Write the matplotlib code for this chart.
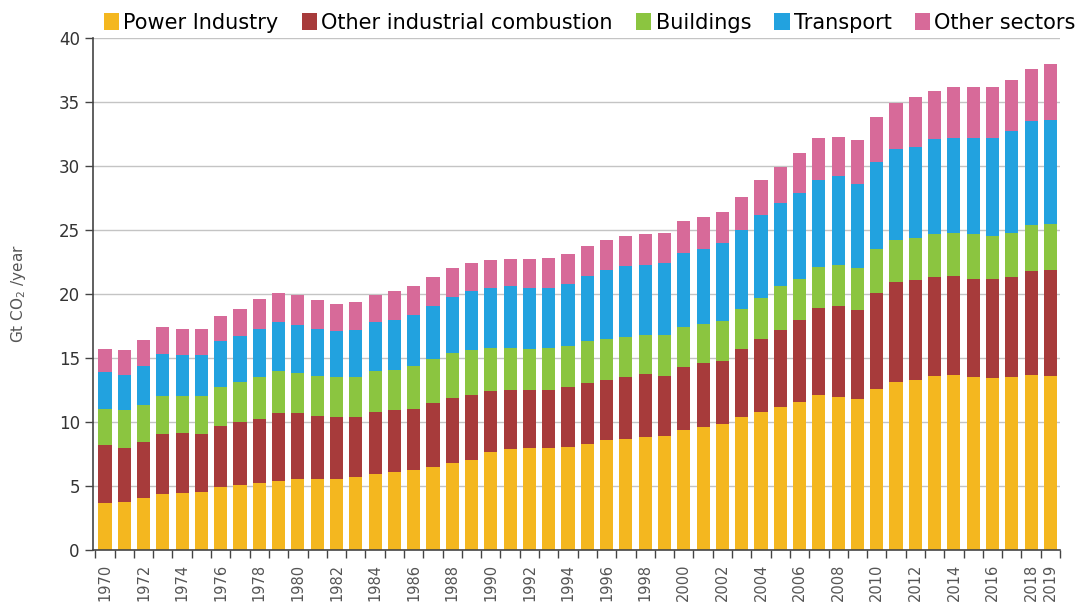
import matplotlib
matplotlib.use("Agg")
import matplotlib.pyplot as plt
import numpy as np

plt.rcParams['font.family'] = ['Liberation Sans Narrow', 'DejaVu Sans']

years = list(range(1970, 2020))

# Gt CO2 per year
power = [3.65, 3.75, 4.06, 4.4, 4.45, 4.5, 4.9, 5.08, 5.26, 5.4,
         5.55, 5.55, 5.55, 5.7, 5.94, 6.07, 6.22, 6.5, 6.77, 7.03,
         7.68, 7.86, 7.94, 8.0, 8.07, 8.25, 8.6, 8.7, 8.85, 8.93,
         9.38, 9.58, 9.87, 10.38, 10.8, 11.2, 11.6, 12.1, 11.98, 11.8,
         12.6, 13.15, 13.3, 13.6, 13.67, 13.5, 13.4, 13.5, 13.67, 13.6]
industry = [4.55, 4.25, 4.34, 4.66, 4.69, 4.56, 4.76, 4.89, 4.94, 5.3,
            5.15, 4.95, 4.85, 4.7, 4.86, 4.83, 4.8, 4.96, 5.08, 5.07,
            4.77, 4.64, 4.56, 4.5, 4.63, 4.82, 4.7, 4.8, 4.9, 4.67,
            4.89, 5.02, 4.88, 5.32, 5.66, 6.0, 6.4, 6.8, 7.08, 6.95,
            7.5, 7.81, 7.8, 7.75, 7.73, 7.7, 7.75, 7.8, 8.13, 8.3]
buildings = [2.85, 2.96, 2.95, 3.0, 2.92, 2.94, 3.04, 3.18, 3.3, 3.26,
             3.1, 3.1, 3.1, 3.1, 3.16, 3.2, 3.35, 3.44, 3.51, 3.5,
             3.35, 3.3, 3.2, 3.25, 3.2, 3.28, 3.16, 3.17, 3.05, 3.2,
             3.13, 3.06, 3.12, 3.1, 3.24, 3.4, 3.2, 3.2, 3.24, 3.25,
             3.4, 3.24, 3.25, 3.35, 3.4, 3.5, 3.35, 3.5, 3.6, 3.6]
transport = [2.85, 2.74, 3.05, 3.24, 3.14, 3.2, 3.6, 3.55, 3.8, 3.84,
             3.8, 3.7, 3.6, 3.7, 3.84, 3.9, 4.0, 4.2, 4.44, 4.6,
             4.7, 4.8, 4.8, 4.75, 4.9, 5.05, 5.44, 5.53, 5.5, 5.6,
             5.8, 5.84, 6.1, 6.2, 6.5, 6.5, 6.7, 6.8, 6.9, 6.6,
             6.8, 7.1, 7.15, 7.4, 7.4, 7.5, 7.7, 7.9, 8.1, 8.1]
other = [1.8, 1.9, 2.0, 2.1, 2.1, 2.1, 2.0, 2.1, 2.3, 2.3,
         2.3, 2.2, 2.1, 2.15, 2.15, 2.26, 2.25, 2.2, 2.26, 2.25,
         2.16, 2.16, 2.2, 2.3, 2.3, 2.35, 2.3, 2.3, 2.36, 2.4,
         2.5, 2.5, 2.43, 2.6, 2.7, 2.85, 3.1, 3.3, 3.1, 3.4,
         3.55, 3.65, 3.9, 3.76, 4.0, 4.0, 4.0, 4.0, 4.05, 4.37]

series = [("Power Industry", power, "#F4B71F"),
          ("Other industrial combustion", industry, "#A73B3B"),
          ("Buildings", buildings, "#8BC540"),
          ("Transport", transport, "#22A2DF"),
          ("Other sectors", other, "#D76A99")]

fig = plt.figure(figsize=(10.89, 6.10), dpi=100)
ax = fig.add_axes([0.0854, 0.0984, 0.888, 0.8393])

x = np.arange(len(years))
bottom = np.zeros(len(years))
for name, vals, col in series:
    ax.bar(x, vals, width=0.68, bottom=bottom, color=col, label=name, zorder=2)
    bottom += np.array(vals)

ax.set_ylim(0, 40)
ax.set_xlim(-0.62, 49.4)
ax.set_yticks(range(0, 41, 5))
ax.yaxis.grid(True, color="#c4c4c4", linewidth=1.0, zorder=0)
ax.set_axisbelow(True)

# year labels every other year plus the last one
lab_idx = list(range(0, 50, 2)) + [49]
ax.set_xticks(lab_idx)
ax.set_xticklabels([str(years[i]) for i in lab_idx], rotation=90, fontsize=10.5, color="#555555")
ax.tick_params(axis="x", which="major", length=0, pad=10)
ax.set_xticks(np.arange(-0.5, 50, 1), minor=True)
ax.tick_params(axis="x", which="minor", length=6, color="#444444", width=1)
ax.tick_params(axis="y", length=6, color="#444444", width=1, labelsize=12, labelcolor="#333333")

for s in ["top", "right"]:
    ax.spines[s].set_visible(False)
ax.spines["left"].set_color("#444444")
ax.spines["bottom"].set_color("#444444")
ax.spines["left"].set_linewidth(1.2)
ax.spines["bottom"].set_linewidth(1.2)

ax.set_ylabel("Gt CO$_2$ /year", fontsize=11, color="#555555", labelpad=22)

fig.legend(loc="upper right", bbox_to_anchor=(1.005, 1.01), ncol=5, frameon=False,
           fontsize=15, handlelength=0.75, handleheight=0.9, handletextpad=0.2,
           columnspacing=1.1)

fig.savefig("out.png", dpi=100)
